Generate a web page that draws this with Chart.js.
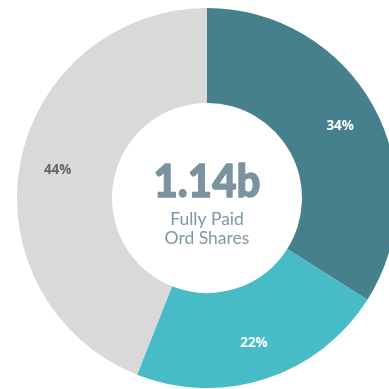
<!DOCTYPE html>
<html>
<head>
<meta charset="utf-8">
<script src="https://cdn.jsdelivr.net/npm/chart.js@4"></script>
<style>
  html, body { margin: 0; padding: 0; background: #ffffff; overflow: hidden; width: 389px; height: 389px; }
  #wrap { position: absolute; left: 0; top: 0; width: 414px; height: 396px; }
</style>
</head>
<body>
<div id="wrap"><canvas id="chart" width="414" height="396"></canvas></div>
<script>
// Share register breakdown
const categories = ['Top 20', 'Next holders', 'Remaining'];
const shareValues = [34, 22, 44];
const sliceColors = ['#46808c', '#47bcc7', '#d9d9d9'];
const labelColors = ['#ffffff', '#ffffff', '#666666'];
const totalLabel = '1.14b';
const subtitleLines = ['Fully Paid', 'Ord Shares'];

// Percentage labels inside each slice plus the headline in the hole
const sliceText = {
  id: 'sliceText',
  afterDatasetsDraw(chart) {
    const ctx = chart.ctx;
    const meta = chart.getDatasetMeta(0);
    const data = chart.data.datasets[0].data;
    const total = data.reduce((a, b) => a + b, 0);
    ctx.save();
    ctx.textAlign = 'center';
    ctx.textBaseline = 'middle';
    ctx.font = 'bold 13.5px "Open Sans", Lato, sans-serif';
    meta.data.forEach((arc, i) => {
      const p = arc.getProps(['x', 'y', 'startAngle', 'endAngle', 'innerRadius', 'outerRadius'], true);
      const mid = (p.startAngle + p.endAngle) / 2;
      const r = p.innerRadius + 0.6 * (p.outerRadius - p.innerRadius);
      ctx.fillStyle = labelColors[i];
      ctx.fillText(Math.round(data[i] / total * 100) + '%', p.x + Math.cos(mid) * r, p.y + Math.sin(mid) * r + 1);
    });

    const c = meta.data[0];
    const cx = c.x, cy = c.y;
    ctx.fillStyle = '#7a939e';
    ctx.strokeStyle = '#7a939e';
    ctx.lineWidth = 1.3;
    ctx.lineJoin = 'round';
    ctx.font = '900 46px Lato, "Open Sans", sans-serif';
    const w = ctx.measureText(totalLabel).width;
    const target = 107;
    ctx.save();
    ctx.translate(cx, cy - 16);
    ctx.scale(target / w, 1);
    ctx.fillText(totalLabel, 0, 0);
    ctx.strokeText(totalLabel, 0, 0);
    ctx.restore();

    ctx.fillStyle = '#7f97a2';
    ctx.font = '17.5px Lato, "Open Sans", sans-serif';
    ctx.fillText(subtitleLines[0], cx, cy + 21);
    ctx.fillText(subtitleLines[1], cx, cy + 40);
    ctx.restore();
  }
};

new Chart(document.getElementById('chart'), {
  type: 'doughnut',
  data: {
    labels: categories,
    datasets: [{
      data: shareValues,
      backgroundColor: sliceColors,
      borderWidth: 0,
      hoverOffset: 0
    }]
  },
  options: {
    responsive: false,
    animation: false,
    cutout: '50%',
    layout: { padding: { top: 8, bottom: 8 } },
    plugins: {
      legend: { display: false },
      tooltip: { enabled: false }
    }
  },
  plugins: [sliceText]
});
</script>
</body>
</html>
